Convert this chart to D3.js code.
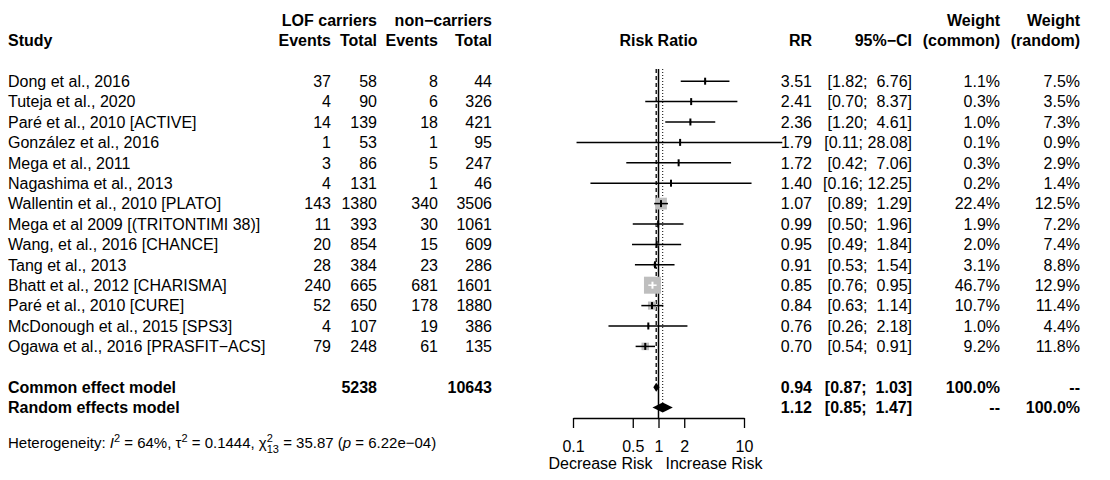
<!DOCTYPE html>
<html>
<head>
<meta charset="utf-8">
<script src="https://cdn.jsdelivr.net/npm/d3@7"></script>
<style>
  body { margin: 0; background: #fff; }
  text { font-family: "Liberation Sans", Arial, sans-serif; font-size: 16px; fill: #000; white-space: pre; }
  .b { font-weight: bold; }
</style>
</head>
<body>
<svg width="1110" height="480"></svg>
<script>
// study rows
const studies = ["Dong et al., 2016", "Tuteja et al., 2020", "Paré et al., 2010 [ACTIVE]",
  "González et al., 2016", "Mega et al., 2011", "Nagashima et al., 2013",
  "Wallentin et al., 2010 [PLATO]", "Mega et al 2009 [(TRITONTIMI 38)]",
  "Wang, et al., 2016 [CHANCE]", "Tang et al., 2013", "Bhatt et al., 2012 [CHARISMA]",
  "Paré et al., 2010 [CURE]", "McDonough et al., 2015 [SPS3]", "Ogawa et al., 2016 [PRASFIT\u2212ACS]"];
const eventsLof = [37, 4, 14, 1, 3, 4, 143, 11, 20, 28, 240, 52, 4, 79];
const totalLof  = [58, 90, 139, 53, 86, 131, 1380, 393, 854, 384, 665, 650, 107, 248];
const eventsNon = [8, 6, 18, 1, 5, 1, 340, 30, 15, 23, 681, 178, 19, 61];
const totalNon  = [44, 326, 421, 95, 247, 46, 3506, 1061, 609, 286, 1601, 1880, 386, 135];
const rr    = [3.51, 2.41, 2.36, 1.79, 1.72, 1.40, 1.07, 0.99, 0.95, 0.91, 0.85, 0.84, 0.76, 0.70];
const lower = [1.82, 0.70, 1.20, 0.11, 0.42, 0.16, 0.89, 0.50, 0.49, 0.53, 0.76, 0.63, 0.26, 0.54];
const upper = [6.76, 8.37, 4.61, 28.08, 7.06, 12.25, 1.29, 1.96, 1.84, 1.54, 0.95, 1.14, 2.18, 0.91];
const wCommon = [1.1, 0.3, 1.0, 0.1, 0.3, 0.2, 22.4, 1.9, 2.0, 3.1, 46.7, 10.7, 1.0, 9.2];
const wRandom = [7.5, 3.5, 7.3, 0.9, 2.9, 1.4, 12.5, 7.2, 7.4, 8.8, 12.9, 11.4, 4.4, 11.8];

// pooled estimates
const pooled = [
  { name: "Common effect model", rr: 0.94, lo: 0.87, hi: 1.03, wc: "100.0%", wr: "--" },
  { name: "Random effects model", rr: 1.12, lo: 0.85, hi: 1.47, wc: "--", wr: "100.0%" }
];
const pooledTotals = [5238, 10643];
const ticks = [0.1, 0.5, 1, 2, 10];

const svg = d3.select("svg");

const x = d3.scaleLog().domain([0.1, 10]).range([573, 744]);
const y = d3.scaleLinear().domain([0, 16]).range([81.2, 407.6]); // row index -> centre
const base = i => y(i) + 5.8;

// column right edges
const col = { study: 8, evL: 331, totL: 377, evN: 438, totN: 492, rr: 812, ci: 912, wc: 1000, wr: 1080 };

function txt(str, xx, yy, anchor, bold) {
  return svg.append("text")
    .attr("x", xx).attr("y", yy)
    .attr("text-anchor", anchor || "end")
    .attr("class", bold ? "b" : null)
    .text(str);
}

const ciStr = (lo, hi) => "[" + lo.toFixed(2) + "; " + (hi < 10 ? " " : "") + hi.toFixed(2) + "]";

// headers
txt("LOF carriers", col.totL, base(-3), "end", true);
txt("non\u2212carriers", col.totN, base(-3), "end", true);
txt("Weight", col.wc, base(-3), "end", true);
txt("Weight", col.wr, base(-3), "end", true);
txt("Study", col.study, base(-2), "start", true);
txt("Events", col.evL, base(-2), "end", true);
txt("Total", col.totL, base(-2), "end", true);
txt("Events", col.evN, base(-2), "end", true);
txt("Total", col.totN, base(-2), "end", true);
txt("Risk Ratio", x(1), base(-2), "middle", true);
txt("RR", col.rr, base(-2), "end", true);
txt("95%\u2212CI", col.ci, base(-2), "end", true);
txt("(common)", col.wc, base(-2), "end", true);
txt("(random)", col.wr, base(-2), "end", true);

// study text columns
studies.forEach((s, i) => {
  txt(s, col.study, base(i), "start");
  txt(eventsLof[i], col.evL, base(i));
  txt(totalLof[i], col.totL, base(i));
  txt(eventsNon[i], col.evN, base(i));
  txt(totalNon[i], col.totN, base(i));
  txt(rr[i].toFixed(2), col.rr, base(i));
  txt(ciStr(lower[i], upper[i]), col.ci, base(i));
  txt(wCommon[i].toFixed(1) + "%", col.wc, base(i));
  txt(wRandom[i].toFixed(1) + "%", col.wr, base(i));
});

// pooled rows
pooled.forEach((p, k) => {
  const i = 15 + k;
  txt(p.name, col.study, base(i), "start", true);
  txt(p.rr.toFixed(2), col.rr, base(i), "end", true);
  txt(ciStr(p.lo, p.hi), col.ci, base(i), "end", true);
  txt(p.wc, col.wc, base(i), "end", true);
  txt(p.wr, col.wr, base(i), "end", true);
});
txt(pooledTotals[0], col.totL, base(15), "end", true);
txt(pooledTotals[1], col.totN, base(15), "end", true);

// reference lines
const lineTop = 69, axisY = 418;
svg.append("line").attr("x1", x(1)).attr("x2", x(1)).attr("y1", lineTop).attr("y2", axisY)
  .attr("stroke", "#000").attr("stroke-width", 1.5);
svg.append("line").attr("x1", x(pooled[0].rr)).attr("x2", x(pooled[0].rr))
  .attr("y1", lineTop).attr("y2", y(15) - 4)
  .attr("stroke", "#000").attr("stroke-width", 1.3).attr("stroke-dasharray", "4,3");
svg.append("line").attr("x1", x(pooled[1].rr)).attr("x2", x(pooled[1].rr))
  .attr("y1", lineTop).attr("y2", y(16) - 5)
  .attr("stroke", "#000").attr("stroke-width", 1).attr("stroke-dasharray", "1,2");

// squares sized by common weight
const maxW = d3.max(wCommon);
const size = d3.scaleSqrt().domain([0, maxW]).range([0, 17]);

const g = svg.append("g");
studies.forEach((s, i) => {
  const cx = x(rr[i]), cy = y(i), h = size(wCommon[i]);
  g.append("rect").attr("x", cx - h / 2).attr("y", cy - h / 2)
    .attr("width", h).attr("height", h).attr("fill", "#bebebe");
  const inside = x(lower[i]) >= cx - h / 2 && x(upper[i]) <= cx + h / 2;
  const c = inside ? "#fff" : "#000";
  g.append("line").attr("x1", x(lower[i])).attr("x2", x(upper[i]))
    .attr("y1", cy).attr("y2", cy).attr("stroke", c).attr("stroke-width", 1.5);
  g.append("line").attr("x1", cx).attr("x2", cx).attr("y1", cy - 3.5).attr("y2", cy + 3.5)
    .attr("stroke", c).attr("stroke-width", 2);
});

// diamonds
pooled.forEach((p, k) => {
  const cy = y(15 + k), hh = k === 0 ? 4.5 : 5;
  g.append("path")
    .attr("d", `M${x(p.lo)},${cy} L${x(p.rr)},${cy - hh} L${x(p.hi)},${cy} L${x(p.rr)},${cy + hh} Z`)
    .attr("fill", "#000");
});

// axis
const axis = svg.append("g").attr("transform", `translate(0,${axisY})`)
  .call(d3.axisBottom(x).tickValues(ticks).tickFormat(d => String(d))
    .tickSize(10).tickSizeOuter(0).tickPadding(13));
axis.selectAll("path, line").attr("stroke", "#000").attr("stroke-width", 1.3);
axis.selectAll("text").style("font-size", "16px").attr("fill", "#000")
  .style("font-family", "'Liberation Sans', Arial, sans-serif");

txt("Decrease Risk", x(1) - 6, 469, "end");
txt("Increase Risk", x(1) + 7, 469, "start");

// heterogeneity line
const het = svg.append("text").attr("x", col.study).attr("y", 447.5).style("font-size", "15px");
het.append("tspan").text("Heterogeneity: ");
het.append("tspan").style("font-style", "italic").text("I");
het.append("tspan").attr("dy", -6).style("font-size", "11px").text("2");
het.append("tspan").attr("dy", 6).text(" = 64%, \u03c4");
het.append("tspan").attr("dy", -6).style("font-size", "11px").text("2");
het.append("tspan").attr("dy", 6).text(" = 0.1444, \u03c7");
het.append("tspan").attr("dy", -6).style("font-size", "11px").text("2");
het.append("tspan").attr("dx", -6.1).attr("dy", 11).style("font-size", "11px").text("13");
het.append("tspan").attr("dy", -5).text(" = 35.87 (");
het.append("tspan").style("font-style", "italic").text("p");
het.append("tspan").text(" = 6.22e\u221204)");
</script>
</body>
</html>
